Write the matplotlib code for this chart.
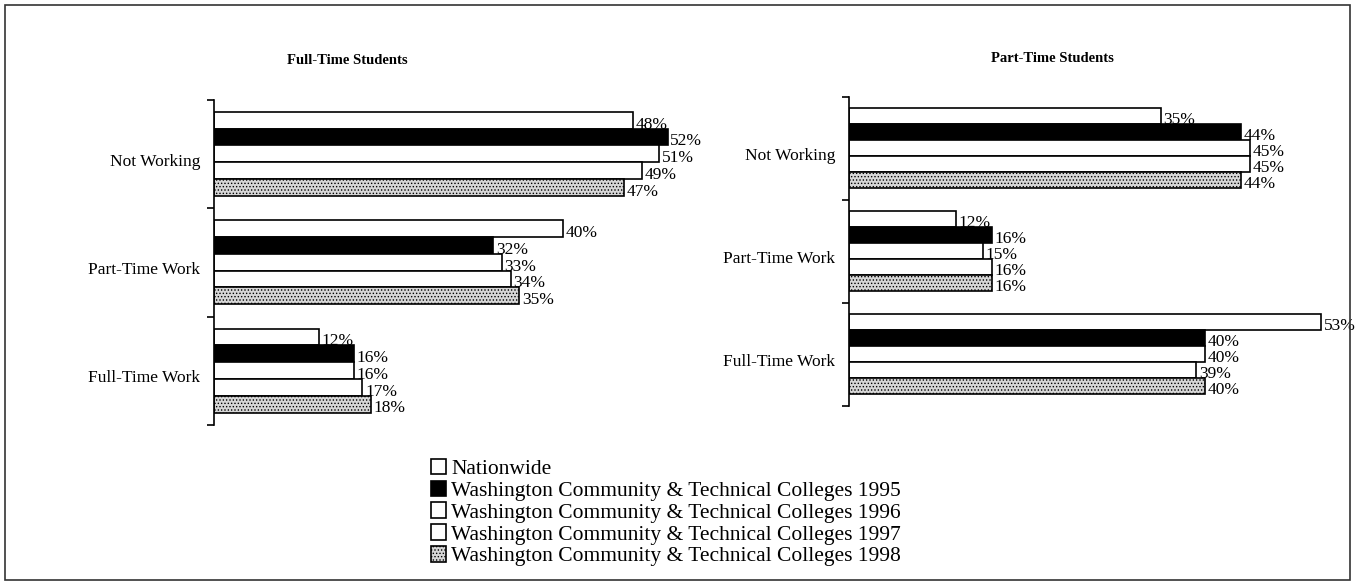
import numpy as np
from matplotlib import pyplot as plt
from matplotlib.patches import Rectangle

categories = ["Not Working", "Part-Time Work", "Full-Time Work"]
series = [
    "Nationwide",
    "Washington Community & Technical Colleges 1995",
    "Washington Community & Technical Colleges 1996",
    "Washington Community & Technical Colleges 1997",
    "Washington Community & Technical Colleges 1998",
]
full_time = [
    [48, 40, 12],
    [52, 32, 16],
    [51, 33, 16],
    [49, 34, 17],
    [47, 35, 18],
]
part_time = [
    [35, 12, 53],
    [44, 16, 40],
    [45, 15, 40],
    [45, 16, 39],
    [44, 16, 40],
]

faces = ["white", "black", "white", "white", "#d6d6d6"]
hatches = [None, None, None, None, "....."]

plt.rcParams["font.family"] = ["Liberation Serif", "DejaVu Serif"]
plt.rcParams["hatch.color"] = "#9a9a9a"
plt.rcParams["hatch.linewidth"] = 0.6


def draw_panel(ax, values, xmax):
    n = len(series)
    h = 0.155
    y0 = np.arange(len(categories))
    bars = []
    for i in range(n):
        ys = y0 - 0.5 + 0.11 + h * (i + 0.5)
        b = ax.barh(ys, values[i], height=h, color=faces[i], hatch=hatches[i],
                    edgecolor="black", linewidth=1.2, label=series[i])
        bars.append(b)
        for y, v in zip(ys, values[i]):
            ax.text(v + 0.3, y + 0.04, f"{v}%", va="center", ha="left", fontsize=12.5)
    ax.set_ylim(len(categories) - 0.5, -0.5)
    ax.set_xlim(0, xmax)
    ax.set_yticks(np.arange(len(categories) + 1) - 0.5)
    ax.set_yticklabels([])
    ax.set_yticks(y0 + 0.05, minor=True)
    ax.set_yticklabels(categories, minor=True, fontsize=12.5)
    ax.tick_params(axis="y", which="major", length=5, width=1.2, direction="out")
    ax.tick_params(axis="y", which="minor", length=0, pad=10)
    ax.set_xticks([])
    for s in ["top", "right", "bottom"]:
        ax.spines[s].set_visible(False)
    ax.spines["left"].set_linewidth(1.2)
    return bars


fig = plt.figure(figsize=(13.6, 5.84), dpi=100)

ax1 = fig.add_axes([214 / 1360, 1 - 425 / 584, 480 / 1360, 325 / 584])
bars = draw_panel(ax1, full_time, 55)
ax2 = fig.add_axes([849 / 1360, 1 - 406 / 584, 490 / 1360, 309 / 584])
draw_panel(ax2, part_time, 55)

fig.text(347 / 1360, 1 - 60 / 584, "Full-Time Students", ha="center", va="center",
         fontsize=10.5, fontweight="bold")
fig.text(1052 / 1360, 1 - 58 / 584, "Part-Time Students", ha="center", va="center",
         fontsize=10.5, fontweight="bold")

fig.legend(handles=bars, labels=series, loc="upper left",
           bbox_to_anchor=(422 / 1360, 1 - 450 / 584), frameon=False,
           fontsize=15.5, handlelength=0.72, handleheight=0.72, handletextpad=0.25,
           labelspacing=0.08, borderaxespad=0)

fig.add_artist(Rectangle((5 / 1360, 4 / 584), 1345 / 1360, 575 / 584,
                         transform=fig.transFigure, fill=False,
                         edgecolor="#333333", linewidth=1.2))

fig.savefig("out.png", dpi=100)
